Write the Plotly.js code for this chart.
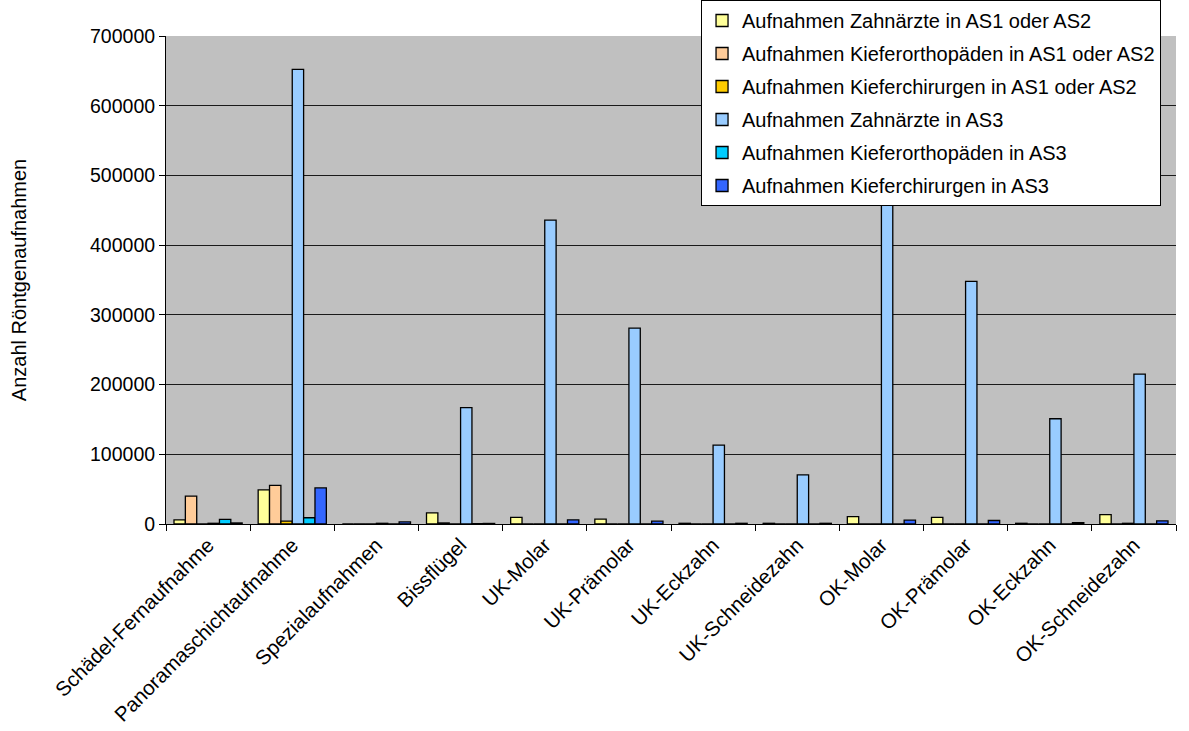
<!DOCTYPE html>
<html>
<head>
<meta charset="utf-8">
<script src="https://cdn.plot.ly/plotly-3.0.1.min.js"></script>
<style>html,body{margin:0;padding:0;background:#fff;}#chart{width:1189px;height:731px;}</style>
</head>
<body>
<div id="chart"></div>
<script>
const categories = ["Schädel-Fernaufnahme","Panoramaschichtaufnahme","Spezialaufnahmen","Bissflügel","UK-Molar","UK-Prämolar","UK-Eckzahn","UK-Schneidezahn","OK-Molar","OK-Prämolar","OK-Eckzahn","OK-Schneidezahn"];
const seriesNames = ["Aufnahmen Zahnärzte in AS1 oder AS2","Aufnahmen Kieferorthopäden in AS1 oder AS2","Aufnahmen Kieferchirurgen in AS1 oder AS2","Aufnahmen Zahnärzte in AS3","Aufnahmen Kieferorthopäden in AS3","Aufnahmen Kieferchirurgen in AS3"];
const zahnAS12 = [6000, 49000, 0, 16000, 9500, 7000, 1000, 1000, 10500, 9500, 1000, 13500];
const kfoAS12  = [40000, 55500, 0, 1500, 0, 0, 0, 0, 0, 0, 0, 0];
const kchAS12  = [0, 4000, 0, 0, 0, 0, 0, 0, 0, 0, 0, 1000];
const zahnAS3  = [1000, 652000, 1000, 167000, 436000, 281000, 113000, 70500, 459000, 348000, 151000, 215000];
const kfoAS3   = [6500, 9000, 0, 500, 0, 0, 0, 0, 0, 0, 0, 0];
const kchAS3   = [1500, 51700, 3000, 800, 6000, 4000, 1000, 1000, 5500, 5000, 2000, 4500];
const yTicks = [0, 100000, 200000, 300000, 400000, 500000, 600000, 700000];

const seriesValues = [zahnAS12, kfoAS12, kchAS12, zahnAS3, kfoAS3, kchAS3];
const colors = ["#FFFF99","#FFCC99","#FFCC00","#99CCFF","#00CCFF","#3366FF"];
const FONT = "Liberation Sans, Arial, sans-serif";

const data = seriesValues.map((vals, i) => ({
  type: "bar",
  name: seriesNames[i],
  x: categories,
  y: vals,
  legendgroup: "g" + i,
  marker: {color: colors[i], line: {color: "#000", width: 1.3}},
  hoverinfo: "x+y+name"
}));

const layout = {
  width: 1189, height: 731,
  margin: {l: 166, r: 13, t: 36, b: 207, autoexpand: false},
  paper_bgcolor: "#fff",
  plot_bgcolor: "#C0C0C0",
  font: {family: FONT, size: 20, color: "#000"},
  barmode: "group",
  bargap: 0.19,
  bargroupgap: 0,
  showlegend: true,
  legend: {
    xref: "container", yref: "container",
    x: 0.5896, xanchor: "left",
    y: 1.0, yanchor: "top",
    bgcolor: "#fff", bordercolor: "#000", borderwidth: 1,
    font: {family: FONT, size: 20, color: "#000"},
    tracegroupgap: 4,
    traceorder: "grouped"
  },
  xaxis: {
    type: "category",
    automargin: false,
    tickangle: -45,
    ticks: "outside", tickson: "boundaries", ticklen: 6, tickcolor: "#000",
    showline: true, linecolor: "#000", linewidth: 1,
    showgrid: false, zeroline: false,
    tickfont: {family: FONT, size: 20.5, color: "#000"}
  },
  yaxis: {
    automargin: false,
    range: [0, 700000],
    tickvals: yTicks,
    ticktext: yTicks.map(String),
    ticks: "outside", ticklen: 6, tickcolor: "#000",
    showline: true, linecolor: "#000", linewidth: 1,
    showgrid: true, gridcolor: "#1a1a1a", gridwidth: 1,
    zeroline: false,
    tickfont: {family: FONT, size: 19.5, color: "#000"},
    title: {text: "Anzahl Röntgenaufnahmen", font: {family: FONT, size: 20, color: "#000"}, standoff: 58}
  }
};

Plotly.newPlot("chart", data, layout, {displayModeBar: false, staticPlot: true});
</script>
</body>
</html>
